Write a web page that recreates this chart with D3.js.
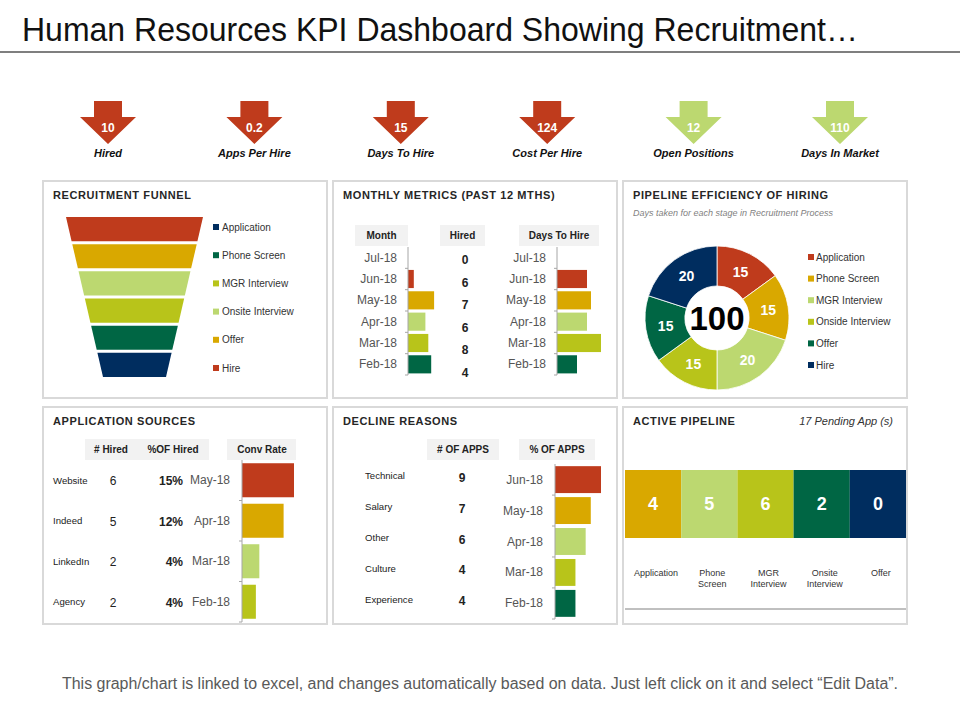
<!DOCTYPE html>
<html>
<head>
<meta charset="utf-8">
<script src="https://cdn.jsdelivr.net/npm/d3@7"></script>
<style>
  body { margin: 0; background: #fff; }
  svg { display: block; font-family: "Liberation Sans", Arial, sans-serif; }
</style>
</head>
<body>
<svg id="chart" width="960" height="720"></svg>
<script>
// ---- data ----
const kpiLabels = ["Hired", "Apps Per Hire", "Days To Hire", "Cost Per Hire", "Open Positions", "Days In Market"];
const kpiValues = [10, 0.2, 15, 124, 12, 110];
const kpiGood = [false, false, false, false, true, true];

const funnelStages = ["Application", "Phone Screen", "MGR Interview", "Onsite Interview", "Offer", "Hire"];

const months = ["Jul-18", "Jun-18", "May-18", "Apr-18", "Mar-18", "Feb-18"];
const monthlyHired = [0, 6, 7, 6, 8, 4];
const monthlyBar = [0, 2, 9, 6, 7, 8];
const monthlyDays = [0, 15, 17, 15, 22, 10];

const pipeStages = ["Application", "Phone Screen", "MGR Interview", "Onside Interview", "Offer", "Hire"];
const pipeDays = [15, 15, 20, 15, 15, 20];

const sources = ["Website", "Indeed", "LinkedIn", "Agency"];
const sourceHired = [6, 5, 2, 2];
const sourcePct = [15, 12, 4, 4];
const sourceMonths = ["May-18", "Apr-18", "Mar-18", "Feb-18"];
const sourceConv = [15, 12, 5, 4];

const reasons = ["Technical", "Salary", "Other", "Culture", "Experience"];
const reasonApps = [9, 7, 6, 4, 4];
const reasonMonths = ["Jun-18", "May-18", "Apr-18", "Mar-18", "Feb-18"];

const activeStages = ["Application", "Phone Screen", "MGR Interview", "Onsite Interview", "Offer"];
const activeCounts = [4, 5, 6, 2, 0];

// palette
const RED = "#bf3b1c", GOLD = "#d9a800", LGREEN = "#bcd870", OLIVE = "#b8c41a",
      DGREEN = "#006644", NAVY = "#002d5f";
const seq = [RED, GOLD, LGREEN, OLIVE, DGREEN, NAVY];

const svg = d3.select("#chart");

// ---- title ----
svg.append("text")
  .attr("x", 22).attr("y", 41)
  .attr("font-size", 33).attr("fill", "#111")
  .attr("textLength", 836).attr("lengthAdjust", "spacingAndGlyphs")
  .text("Human Resources KPI Dashboard Showing Recruitment\u2026");
svg.append("line")
  .attr("x1", 0).attr("x2", 960).attr("y1", 52).attr("y2", 52)
  .attr("stroke", "#7f7f7f").attr("stroke-width", 2);

// ---- KPI arrows ----
const kx = d3.scalePoint().domain(kpiLabels).range([108, 840]);
const kpi = svg.append("g").selectAll("g")
  .data(kpiLabels)
  .join("g")
  .attr("transform", d => `translate(${kx(d)},101)`);
kpi.append("path")
  .attr("d", "M-14,0 L14,0 L14,16 L28,16 L0,43 L-28,16 L-14,16 Z")
  .attr("fill", (d, i) => kpiGood[i] ? "#bcd870" : RED);
kpi.append("text")
  .attr("y", 27).attr("text-anchor", "middle").attr("dominant-baseline", "central")
  .attr("fill", "#fff").attr("font-weight", "bold").attr("font-size", 12)
  .text((d, i) => kpiValues[i]);
kpi.append("text")
  .attr("y", 56).attr("text-anchor", "middle")
  .attr("font-style", "italic").attr("font-weight", "bold").attr("font-size", 11)
  .attr("fill", "#111")
  .text(d => d);

// ---- panels ----
const panelX = [43, 333, 623], panelY = [181, 407], PW = 284, PH = 217;
const panelTitles = [
  ["RECRUITMENT FUNNEL", "MONTHLY METRICS (PAST 12 MTHS)", "PIPELINE EFFICIENCY OF HIRING"],
  ["APPLICATION SOURCES", "DECLINE REASONS", "ACTIVE PIPELINE"]
];
panelY.forEach((py, r) => panelX.forEach((px, c) => {
  svg.append("rect")
    .attr("x", px).attr("y", py).attr("width", PW).attr("height", PH)
    .attr("fill", "#fff").attr("stroke", "#d9d9d9").attr("stroke-width", 2);
  svg.append("text")
    .attr("x", px + 10).attr("y", py + 18)
    .attr("font-size", 11).attr("font-weight", "bold").attr("letter-spacing", 0.6)
    .attr("fill", "#262626")
    .text(panelTitles[r][c]);
}));

function headerBox(x0, x1, y0, y1, labels) {
  svg.append("rect").attr("x", x0).attr("y", y0).attr("width", x1 - x0).attr("height", y1 - y0)
    .attr("fill", "#f2f2f2");
  labels.forEach(l => svg.append("text")
    .attr("x", l[1]).attr("y", (y0 + y1) / 2)
    .attr("text-anchor", "middle").attr("dominant-baseline", "central")
    .attr("font-size", 10).attr("font-weight", "bold").attr("fill", "#222")
    .text(l[0]));
}

function barAxis(x, scale) {
  const [y0, y1] = scale.range();
  const g = svg.append("g").attr("stroke", "#a6a6a6").attr("stroke-width", 1);
  g.append("line").attr("x1", x).attr("x2", x).attr("y1", y0).attr("y2", y1);
  const edges = scale.domain().map(d => scale(d) - scale.step() * scale.paddingInner() / 2).slice(1).concat([y1]);
  g.selectAll("line.t").data(edges).join("line").attr("class", "t")
    .attr("x1", x - 3).attr("x2", x).attr("y1", d => d).attr("y2", d => d);
}

// ---- 1. recruitment funnel ----
const funnelTop = funnelStages.slice().reverse();   // Hire drawn on top
const fy = d3.scaleBand().domain(funnelTop).range([217, 377]).paddingInner(0.11);
const fw = d3.scaleLinear().domain([217, 377]).range([68.5, 31.5]);
const fcx = 134.5;
const stageColor = d3.scaleOrdinal().domain(funnelTop).range(seq);
svg.append("g").selectAll("path")
  .data(funnelTop)
  .join("path")
  .attr("d", d => {
    const a = fy(d), b = a + fy.bandwidth();
    return `M${fcx - fw(a)},${a}L${fcx + fw(a)},${a}L${fcx + fw(b)},${b}L${fcx - fw(b)},${b}Z`;
  })
  .attr("fill", d => stageColor(d));
const fl = d3.scalePoint().domain(funnelStages).range([227, 368]);
const flg = svg.append("g").selectAll("g").data(funnelStages).join("g")
  .attr("transform", d => `translate(213,${fl(d)})`);
flg.append("rect").attr("x", 0).attr("y", -3).attr("width", 6).attr("height", 6)
  .attr("fill", d => stageColor(d));
flg.append("text").attr("x", 9).attr("dominant-baseline", "central")
  .attr("font-size", 10).attr("fill", "#333").text(d => d);

// ---- 2. monthly metrics ----
headerBox(355, 408, 225, 246, [["Month", 381.5]]);
headerBox(440, 485, 225, 246, [["Hired", 462.5]]);
headerBox(519, 599, 225, 246, [["Days To Hire", 559]]);

const my = d3.scaleBand().domain(months).range([247, 375]).paddingInner(0.15).paddingOuter(0.075);
const mxA = d3.scaleLinear().domain([0, 10]).range([0, 29]);
const mxB = d3.scaleLinear().domain([0, 25]).range([0, 50]);
const monthColor = d3.scaleOrdinal().domain(months.slice(1)).range(seq);

function monthBars(axisX, values, xs) {
  svg.append("g").selectAll("text").data(months).join("text")
    .attr("x", axisX - 11).attr("y", d => my(d) + my.bandwidth() / 2)
    .attr("text-anchor", "end").attr("dominant-baseline", "central")
    .attr("font-size", 12).attr("fill", "#555").text(d => d);
  svg.append("g").selectAll("rect").data(months).join("rect")
    .attr("x", axisX).attr("y", d => my(d))
    .attr("width", (d, i) => xs(values[i])).attr("height", my.bandwidth())
    .attr("fill", d => monthColor(d));
  barAxis(axisX, my);
}
monthBars(408, monthlyBar, mxA);
monthBars(557, monthlyDays, mxB);
const hy = d3.scalePoint().domain(months).range([260, 373]);
svg.append("g").selectAll("text").data(months).join("text")
  .attr("x", 465).attr("y", d => hy(d))
  .attr("text-anchor", "middle").attr("dominant-baseline", "central")
  .attr("font-size", 12).attr("font-weight", "bold").attr("fill", "#222")
  .text((d, i) => monthlyHired[i]);

// ---- 3. pipeline efficiency donut ----
svg.append("text").attr("x", 633).attr("y", 213)
  .attr("font-size", 9).attr("font-style", "italic").attr("fill", "#7f7f7f")
  .attr("dominant-baseline", "central")
  .text("Days taken for each stage in Recruitment Process");
const pie = d3.pie().sort(null).value((d, i) => pipeDays[i]);
const arcs = pie(pipeStages);
const arc = d3.arc().innerRadius(32).outerRadius(72);
const pipeColor = d3.scaleOrdinal().domain(pipeStages).range(seq);
const donut = svg.append("g").attr("transform", "translate(717,318)");
donut.selectAll("path").data(arcs).join("path")
  .attr("d", arc).attr("fill", d => pipeColor(d.data))
  .attr("stroke", "#fff").attr("stroke-width", 0.8);
donut.selectAll("text.v").data(arcs).join("text").attr("class", "v")
  .attr("transform", d => `translate(${arc.centroid(d)})`)
  .attr("text-anchor", "middle").attr("dominant-baseline", "central")
  .attr("fill", "#fff").attr("font-weight", "bold").attr("font-size", 14)
  .text(d => d.value);
donut.append("text")
  .attr("text-anchor", "middle").attr("dominant-baseline", "central")
  .attr("font-weight", "bold").attr("font-size", 33).attr("fill", "#000")
  .text(d3.sum(pipeDays));
const pl = d3.scalePoint().domain(pipeStages).range([257, 365]);
const plg = svg.append("g").selectAll("g").data(pipeStages).join("g")
  .attr("transform", d => `translate(808,${pl(d)})`);
plg.append("rect").attr("y", -3).attr("width", 6).attr("height", 6).attr("fill", d => pipeColor(d));
plg.append("text").attr("x", 8).attr("dominant-baseline", "central")
  .attr("font-size", 10).attr("fill", "#333").text(d => d);

// ---- 4. application sources ----
headerBox(85, 209, 439, 460, [["# Hired", 111], ["%OF Hired", 173]]);
headerBox(227, 296, 439, 460, [["Conv Rate", 262]]);
const sy = d3.scaleBand().domain(sources).range([460, 622]).paddingInner(0.16).paddingOuter(0.08);
const sx = d3.scaleLinear().domain([0, 15]).range([0, 52]);
const srcColor = d3.scaleOrdinal().domain(sources).range(seq);
const sc = s => sy(s) + sy.bandwidth() / 2;
svg.append("g").selectAll("text").data(sources).join("text")
  .attr("x", 53).attr("y", d => sc(d))
  .attr("dominant-baseline", "central").attr("font-size", 9.6).attr("fill", "#222")
  .text(d => d);
svg.append("g").selectAll("text").data(sources).join("text")
  .attr("x", 113).attr("y", d => sc(d) + 1).attr("text-anchor", "middle")
  .attr("dominant-baseline", "central").attr("font-size", 12).attr("fill", "#222")
  .text((d, i) => sourceHired[i]);
svg.append("g").selectAll("text").data(sources).join("text")
  .attr("x", 183).attr("y", d => sc(d) + 1).attr("text-anchor", "end")
  .attr("dominant-baseline", "central").attr("font-size", 12).attr("font-weight", "bold").attr("fill", "#222")
  .text((d, i) => sourcePct[i] + "%");
svg.append("g").selectAll("text").data(sources).join("text")
  .attr("x", 230).attr("y", d => sc(d)).attr("text-anchor", "end")
  .attr("dominant-baseline", "central").attr("font-size", 12).attr("fill", "#555")
  .text((d, i) => sourceMonths[i]);
svg.append("g").selectAll("rect").data(sources).join("rect")
  .attr("x", 242).attr("y", d => sy(d))
  .attr("width", (d, i) => sx(sourceConv[i])).attr("height", sy.bandwidth())
  .attr("fill", d => srcColor(d));
barAxis(242, sy);

// ---- 5. decline reasons ----
headerBox(427, 499, 439, 460, [["# OF APPS", 463]]);
headerBox(519, 595, 439, 460, [["% OF APPS", 557]]);
const ry = d3.scaleBand().domain(reasons).range([464, 619]).paddingInner(0.13).paddingOuter(0.07);
const rx = d3.scaleLinear().domain([0, 9]).range([0, 46]);
const rsnColor = d3.scaleOrdinal().domain(reasons).range(seq);
const rc = s => ry(s) + ry.bandwidth() / 2;
svg.append("g").selectAll("text").data(reasons).join("text")
  .attr("x", 365).attr("y", d => rc(d) - 4)
  .attr("dominant-baseline", "central").attr("font-size", 9.6).attr("fill", "#222")
  .text(d => d);
svg.append("g").selectAll("text").data(reasons).join("text")
  .attr("x", 462).attr("y", d => rc(d) - 2).attr("text-anchor", "middle")
  .attr("dominant-baseline", "central").attr("font-size", 12).attr("font-weight", "bold").attr("fill", "#222")
  .text((d, i) => reasonApps[i]);
svg.append("g").selectAll("text").data(reasons).join("text")
  .attr("x", 543).attr("y", d => rc(d)).attr("text-anchor", "end")
  .attr("dominant-baseline", "central").attr("font-size", 12).attr("fill", "#555")
  .text((d, i) => reasonMonths[i]);
svg.append("g").selectAll("rect").data(reasons).join("rect")
  .attr("x", 555).attr("y", d => ry(d))
  .attr("width", (d, i) => rx(reasonApps[i])).attr("height", ry.bandwidth())
  .attr("fill", d => rsnColor(d));
barAxis(555, ry);

// ---- 6. active pipeline ----
svg.append("text").attr("x", 893).attr("y", 421).attr("text-anchor", "end")
  .attr("dominant-baseline", "central").attr("font-size", 11).attr("font-style", "italic")
  .attr("fill", "#333").text(`${d3.sum(activeCounts)} Pending App (s)`);
const ax = d3.scaleBand().domain(activeStages).range([625, 906]);
const actColor = d3.scaleOrdinal().domain(activeStages).range([GOLD, LGREEN, OLIVE, DGREEN, NAVY]);
svg.append("g").selectAll("rect").data(activeStages).join("rect")
  .attr("x", d => ax(d)).attr("y", 470).attr("width", ax.bandwidth()).attr("height", 68)
  .attr("fill", d => actColor(d));
svg.append("g").selectAll("text").data(activeStages).join("text")
  .attr("x", d => ax(d) + ax.bandwidth() / 2).attr("y", 504)
  .attr("text-anchor", "middle").attr("dominant-baseline", "central")
  .attr("fill", "#fff").attr("font-weight", "bold").attr("font-size", 18)
  .text((d, i) => activeCounts[i]);
const alab = svg.append("g").selectAll("text").data(activeStages).join("text")
  .attr("x", d => ax(d) + ax.bandwidth() / 2 + 3).attr("y", 573)
  .attr("text-anchor", "middle").attr("font-size", 9).attr("fill", "#333");
alab.each(function (d) {
  const words = d === "Application" || d === "Offer" ? [d] : d.split(" ");
  d3.select(this).selectAll("tspan").data(words).join("tspan")
    .attr("x", ax(d) + ax.bandwidth() / 2 + 3)
    .attr("dy", (w, i) => i === 0 ? "0.35em" : "1.2em")
    .text(w => w);
});
svg.append("line").attr("x1", 625).attr("x2", 906).attr("y1", 609).attr("y2", 609)
  .attr("stroke", "#808080").attr("stroke-width", 1);

// ---- footer ----
svg.append("text")
  .attr("x", 62).attr("y", 689)
  .attr("font-size", 16).attr("fill", "#595959")
  .attr("font-family", "'Liberation Sans Narrow', 'Liberation Sans', Arial, sans-serif")
  .attr("textLength", 836).attr("lengthAdjust", "spacingAndGlyphs")
  .text("This graph/chart is linked to excel, and changes automatically based on data. Just left click on it and select \u201cEdit Data\u201d.");
</script>
</body>
</html>
